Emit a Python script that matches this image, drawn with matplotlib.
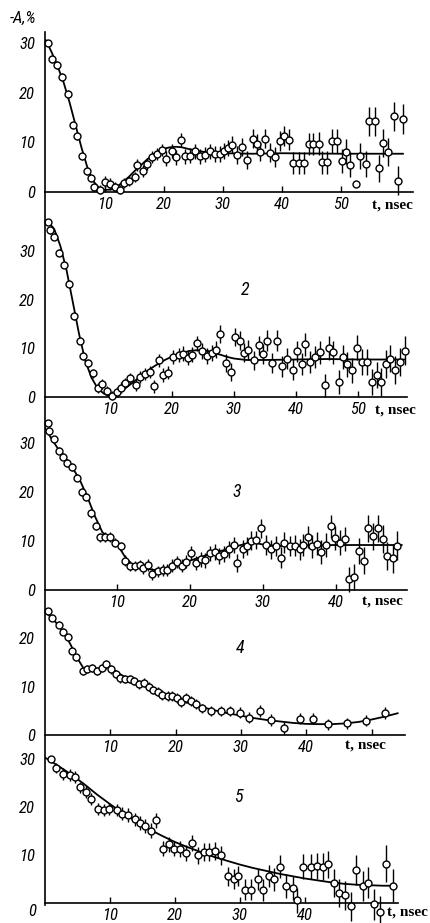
import matplotlib
matplotlib.use('Agg')
import matplotlib.pyplot as plt
from matplotlib.lines import Line2D
from matplotlib import font_manager

# ---- data (t in nsec, -A in %) ----
t1 = [0.3,1.1,1.8,2.7,3.7,4.5,5.2,6.1,6.9,7.6, 8.2,9.2,10.0,10.8,11.7,12.5,13.2,14.1,15.0,15.5,
      16.5,17.2,17.9,18.8,19.6,20.3,21.3,22.1,22.8,23.6, 24.4,25.3,26.1,26.9,27.8,28.6,29.5,30.2,30.9,31.6,
      32.4,33.2,34.1,35.0,35.7,36.3,37.2,38.0,38.8,39.7, 40.3,41.2,41.8,42.8,43.7,44.5,45.3,46.2,46.8,47.7,
      48.4,49.3,50.1,50.9,51.6,52.5,53.2,54.2,54.7,55.8, 56.4,57.2,58.0,58.9,59.7,60.5]
a1 = [30.0,26.8,25.5,23.2,19.7,13.4,11.2,7.2,4.2,2.8, 1.1,0.5,2.0,1.7,1.0,0.5,1.8,2.3,3.0,5.4,
      4.3,5.7,7.0,7.7,8.5,6.7,8.2,7.0,10.5,7.2, 7.3,8.2,7.2,7.5,8.2,7.7,7.7,8.2,8.9,9.5,
      7.5,9.1,6.5,10.7,9.7,8.1,10.7,7.9,7.0,10.3, 11.3,10.5,5.8,5.8,5.8,9.7,9.7,9.7,6.0,6.0,
      10.3,10.3,6.2,8.1,5.5,1.6,7.3,5.7,14.2,14.2, 4.8,9.9,8.0,15.2,2.3,14.7]
e1 = [0.6,0.8,0.8,0.8,0.8,0.7,0.7,0.7,0.7,0.7, 0.8,0.9,1.2,1.2,1.0,1.0,1.0,1.0,1.0,1.2,
      1.2,1.2,1.2,1.2,1.2,1.5,1.4,1.5,1.4,1.5, 1.5,1.5,1.5,1.5,1.5,1.6,1.6,1.6,1.6,1.7,
      1.8,1.8,1.8,1.9,1.9,1.9,1.9,1.9,2.0,2.0, 2.0,2.1,2.2,2.2,2.2,2.2,2.2,2.3,2.3,2.3,
      2.4,2.4,2.4,2.5,2.5,0.0,2.6,2.6,3.0,3.0, 2.7,2.8,2.8,2.9,2.9,3.0]
ct1 = [0,1,2,3,4,5,6,7,8,9,10,11,12,13,14,15,16,17,18,19,20,21,22,23,24,26,28,30,35,40,50,60.5]
cv1 = [30.5,28,25.2,22,18,13.5,9,5,2.2,0.8,0.4,0.5,1.0,2,3,4.2,5.3,6.4,7.4,8.2,8.7,9.0,9.1,9.0,8.7,
       8.2,7.9,7.8,7.7,7.8,7.7,7.7]

t2 = [0.0,0.3,1.0,1.8,2.6,3.4,4.2,5.1,5.6,6.5, 7.3,8.0,8.7,9.5,10.4,11.2,11.7,12.4,13.2,14.2,
      14.8,15.6,16.5,17.1,17.9,18.6,19.4,20.2,21.1,21.8, 22.5,23.3,24.0,24.8,25.6,26.4,27.1,27.8,28.7,29.5,
      30.2,31.0,31.6,32.3,33.3,34.1,34.7,35.4,36.2,37.0, 37.8,38.5,39.5,40.1,40.9,41.5,42.3,43.1,43.8,44.7,
      45.4,46.0,47.0,47.6,48.3,49.1,49.8,50.6,51.4,52.2, 53.0,53.7,54.5,55.2,56.0,56.7,57.6]
a2 = [36.0,34.2,32.9,29.6,27.1,23.3,16.6,11.6,8.4,7.0, 4.9,1.8,2.7,1.2,0.3,1.0,1.9,2.9,3.8,2.4,
      4.1,4.7,5.1,2.2,7.5,4.5,5.0,8.2,8.6,8.9, 8.1,8.7,11.0,9.5,8.4,9.0,9.7,12.9,7.0,5.1,
      12.3,11.6,9.1,9.7,7.5,10.6,8.8,11.6,7.0,11.6, 6.3,7.9,5.6,9.4,6.8,10.8,7.2,8.2,9.2,2.4,
      10.1,9.2,3.1,8.2,6.7,5.5,10.1,7.2,7.2,3.1, 4.5,3.1,6.8,7.9,5.6,7.2,9.5]
e2 = [0.6,0.7,0.7,0.7,0.7,0.7,0.7,0.7,0.8,0.8, 0.9,1.0,1.0,1.0,1.0,1.0,1.1,1.1,1.2,1.2,
      1.2,1.3,1.3,1.3,1.4,1.4,1.4,1.5,1.5,1.5, 1.5,1.5,1.6,1.6,1.6,1.7,1.7,1.8,1.8,1.8,
      1.9,1.9,1.9,2.0,2.0,2.0,2.0,2.1,2.1,2.1, 2.1,2.2,2.2,2.2,2.3,2.3,2.3,2.3,2.4,2.4,
      2.4,2.4,2.5,2.5,2.5,2.6,2.6,2.6,2.7,2.7, 2.7,2.8,2.8,2.8,2.9,2.9,3.0]
ct2 = [0,1,2,3,4,5,6,7,8,9,10,10.5,11,12,13,14,15,16,17,18,19,20,21,22,23,24,25,26,27,28,29,30,32,35,
       40,45,50,57.6]
cv2 = [36,34.5,31,26,19.5,13,7.5,4,1.8,0.7,0.1,0,0.4,1.3,2.3,3.3,4.3,5.3,6.2,7,7.7,8.3,8.8,9.2,9.5,
       9.6,9.6,9.4,9.0,8.6,8.2,7.9,7.6,7.6,7.7,7.8,7.7,7.7]

t3 = [0.5,0.7,1.4,2.0,2.6,3.1,3.9,4.5,5.2,5.8, 6.4,7.1,7.7,8.4,9.1,9.7,10.5,11.1,11.8,12.4,
      13.1,13.6,14.2,14.8,15.6,16.3,16.8,17.5,18.2,18.9, 19.5,20.1,20.8,21.5,22.1,22.7,23.4,24.0,24.7,25.4,
      26.0,26.5,27.2,27.8,28.4,29.1,29.7,30.4,31.1,31.8, 32.5,32.9,33.7,34.4,35.0,35.5,36.2,36.7,37.4,38.0,
      38.6,39.3,39.9,40.5,41.2,41.8,42.5,43.2,43.9,44.4, 45.1,45.7,46.4,47.0,47.8,48.4]
a3 = [34.2,32.6,30.8,28.5,27.3,26.0,25.1,23.0,20.1,19.0, 15.7,13.1,10.8,10.8,10.9,9.7,8.9,6.0,4.9,4.9,
      5.1,4.4,5.1,3.3,3.8,4.1,4.1,5.0,5.7,5.0, 5.8,7.6,5.5,6.3,6.1,7.5,7.8,7.0,7.4,8.3,
      9.2,5.5,8.4,9.0,10.1,10.2,12.6,9.2,8.3,9.0, 6.6,9.7,9.0,9.1,8.3,9.2,10.8,8.9,9.5,7.8,
      9.2,13.0,10.6,9.7,10.4,2.2,2.7,8.0,6.0,12.6, 11.0,12.6,10.4,7.0,6.5,9.1]
e3 = [0.6,0.7,0.7,0.7,0.8,0.8,0.8,0.8,0.8,0.8, 0.9,0.9,0.9,1.0,1.0,1.0,1.0,1.1,1.1,1.1,
      1.1,1.2,1.2,1.2,1.2,1.3,1.3,1.3,1.3,1.4, 1.4,1.5,1.5,1.5,1.5,1.6,1.6,1.6,1.7,1.7,
      1.7,1.8,1.8,1.8,1.9,1.9,2.0,2.0,2.0,2.0, 2.1,2.1,2.1,2.2,2.2,2.2,2.3,2.3,2.3,2.4,
      2.4,2.4,2.5,2.5,2.5,2.6,2.6,2.7,2.7,2.7, 2.8,2.8,2.9,2.9,3.0,3.0]
ct3 = [0,1,2,3,4,5,6,7,8,9,10,11,12,13,14,15,16,17,18,19,20,21,22,23,24,25,26,27,28,29,30,32,35,40,45,49]
cv3 = [33.5,31,28.7,26.8,24.8,22.2,18.8,15,11.8,10.6,9.5,7.0,5.3,4.8,4.4,4.1,4.2,4.5,5.0,5.5,6.0,6.5,
       7.0,7.5,7.9,8.3,8.8,9.2,9.6,9.6,9.3,9.0,9.1,9.2,9.2,9.2]

t4 = [0.4,1.0,2.2,2.8,3.5,4.2,4.8,5.8,6.5,7.2, 8.0,8.7,9.4,10.1,10.9,11.5,12.2,13.0,13.7,14.4,
      15.2,15.9,16.6,17.3,17.9,18.8,19.5,20.2,20.9,21.6, 22.3,23.1,24.1,25.4,27.0,28.3,29.8,31.3,32.9,34.6,
      36.6,39.0,41.0,43.4,46.2,49.2,52.0]
a4 = [25.7,24.3,22.8,21.4,20.3,17.4,16.1,13.2,13.6,13.9, 13.3,13.9,14.6,13.6,12.6,11.7,11.6,11.6,11.2,10.5,
      10.8,10.0,9.3,9.0,8.3,8.1,8.1,7.7,6.9,7.7, 7.0,6.4,5.5,5.0,5.0,5.0,4.6,3.6,5.0,3.1,
      1.5,3.4,3.4,2.2,2.4,3.0,4.6]
e4 = [0.6,0.7,0.7,0.7,0.7,0.7,0.7,0.8,0.8,0.8, 0.8,0.8,0.9,0.9,0.9,0.9,0.9,0.9,0.9,0.9,
      0.9,0.9,0.9,1.0,1.0,1.0,1.0,1.0,1.0,1.0, 1.0,1.0,1.0,1.0,1.0,1.0,1.1,1.1,1.2,1.2,
      1.2,1.2,1.2,1.2,1.2,1.2,1.3]
ct4 = [0,1,2,3,4,5,6,7,8,9,9.5,10,11,12,13,14,15,16,17,18,19,20,22,24,26,28,30,32,34,36,38,40,42,44,
       46,48,50,52,54]
cv4 = [25.5,24.3,22.8,21,18.5,15.8,13.6,13.3,13.5,14.2,14.5,14.1,13,12.2,11.5,10.9,10.3,9.7,9.1,8.5,
       8.0,7.5,6.6,5.8,5.1,4.5,4.0,3.5,3.1,2.8,2.5,2.3,2.25,2.25,2.4,2.7,3.2,3.8,4.5]

t5 = [0.9,1.7,2.8,3.8,4.6,5.4,6.3,7.0,8.1,9.0, 9.9,11.0,11.9,12.8,13.8,14.6,15.4,16.3,17.1,18.1,
      19.0,19.9,20.8,21.7,22.6,23.5,24.4,25.3,26.2,27.1, 28.1,29.0,29.7,30.8,31.7,32.7,33.6,34.4,35.2,36.2,
      37.1,38.1,38.8,39.7,40.9,41.8,42.7,43.6,44.4,45.3, 46.2,47.0,47.9,48.9,49.7,50.6,51.5,52.5,53.5]
a5 = [29.9,28.1,26.9,26.7,26.2,24.1,23.1,21.7,19.6,19.4, 19.6,19.4,18.6,18.3,17.4,16.7,16.0,15.1,17.2,11.3,
      12.2,11.3,11.3,10.4,12.5,9.9,10.6,10.6,10.8,9.9, 5.6,5.0,5.6,2.8,2.8,4.9,2.8,5.6,4.9,7.6,
      3.6,3.1,0.6,7.6,7.6,7.8,7.6,8.1,4.2,2.1, 1.6,-0.7,6.8,3.6,4.2,-0.3,-1.9,8.2,3.6]
e5 = [0.8,1.0,1.2,1.2,1.2,1.2,1.2,1.2,1.3,1.3, 1.3,1.3,1.4,1.4,1.4,1.4,1.5,1.5,1.5,1.6,
      1.6,1.6,1.7,1.7,1.7,1.8,1.8,1.8,1.9,1.9, 2.0,2.0,2.1,2.1,2.2,2.2,2.3,2.3,2.4,2.4,
      2.5,2.5,2.6,2.6,2.7,2.7,2.8,2.8,2.9,2.9, 3.0,3.0,3.1,3.1,3.2,3.2,3.3,3.8,3.4]
ct5 = [0,2,4,6,8,10,12,14,16,18,20,22,24,26,28,30,32,34,36,38,40,42,44,46,48,50,52,54]
cv5 = [30.3,28.6,26.8,24.8,22.6,20.6,18.7,17.0,15.4,14.0,12.7,11.6,10.6,9.6,8.8,8.0,7.3,6.7,6.1,5.6,
       5.1,4.7,4.3,4.0,3.8,3.7,3.6,3.6]

W, H = 430, 923
names = {f.name for f in font_manager.fontManager.ttflist}
num_font, num_size = 'DejaVu Sans', 10.5
for cand in ['Liberation Sans Narrow', 'DejaVu Sans Condensed', 'Roboto Condensed', 'Open Sans Condensed']:
    if cand in names:
        num_font, num_size = cand, 12
        break

fig = plt.figure(figsize=(W / 100, H / 100), dpi=100)
fig.patch.set_facecolor('white')

LEFT = 45

def make_axes(x0, sx, right, y0, sy, top, ybot=-3.0):
    # pixel layout -> axes rectangle and limits
    bottom_px = y0 - ybot * sy
    ax = fig.add_axes([LEFT / W, 1 - bottom_px / H, (right - LEFT) / W, (bottom_px - top) / H])
    ax.set_xlim(-(x0 - LEFT) / sx, (right - x0) / sx)
    ax.set_ylim(ybot, (y0 - top) / sy)
    ax.patch.set_alpha(0)
    for s in ['top', 'right', 'left']:
        ax.spines[s].set_visible(False)
    ax.spines['bottom'].set_position(('data', 0))
    ax.spines['bottom'].set_linewidth(1.2)
    ax.tick_params(axis='x', direction='in', length=4, width=1, pad=3.5)
    ax.tick_params(axis='y', length=0, pad=7)
    return ax

panels = [
    (t1, a1, e1, ct1, cv1, (46, 5.9, 413, 192, 4.97, 32), [10, 20, 30, 40, 50], ['10', '20', '30', '40', '50'], [0, 10, 20, 30]),
    (t2, a2, e2, ct2, cv2, (48, 6.2, 407, 397, 4.87, 215), [10, 20, 30, 40, 50], ['10', '20', '30', '40', '50'], [0, 10, 20, 30]),
    (t3, a3, e3, ct3, cv3, (44, 7.3, 407, 590, 4.89, 418), [10, 20, 30, 40], ['10', '20', '30', '40'], [0, 10, 20, 30]),
    (t4, a4, e4, ct4, cv4, (45, 6.53, 405, 735, 4.83, 607), [10, 20, 30, 40, 50], ['10', '20', '30', '40', ''], [0, 10, 20]),
    (t5, a5, e5, ct5, cv5, (45, 6.5, 398, 903, 4.8, 752), [10, 20, 30, 40], ['10', '20', '30', '40'], [10, 20, 30]),
]

for t, a, e, ct, cv, geo, xt, xl, yt in panels:
    ax = make_axes(*geo)
    ax.plot(ct, cv, color='black', lw=1.3, zorder=2)
    ax.errorbar(t, a, yerr=e, fmt='o', ms=5, mfc='white', mec='black', mew=1.0,
                ecolor='black', elinewidth=1.0, capsize=0, zorder=3, clip_on=False)
    ax.set_xticks(xt)
    ax.set_xticklabels(xl, fontstyle='italic', family=num_font, fontsize=num_size)
    ax.set_yticks(yt)
    ax.set_yticklabels([str(v) for v in yt], fontstyle='italic', family=num_font, fontsize=num_size)

# continuous vertical axis
fig.add_artist(Line2D([LEFT / W, LEFT / W], [1 - 32 / H, 1 - 905 / H], color='black', lw=1.2,
                      transform=fig.transFigure))

# axis titles and panel numbers
fig.text(10 / W, 1 - 18 / H, '-A,%', fontstyle='italic', family=num_font, fontsize=12, va='center')
for x, y in [(372, 205), (375, 410), (362, 601), (345, 745), (387, 912)]:
    fig.text(x / W, 1 - y / H, 't, nsec', family='Liberation Serif', fontweight='bold', fontsize=11,
             va='center')
for lab, x, y in [('2', 245, 290), ('3', 237, 492), ('4', 240, 648), ('5', 238, 797)]:
    fig.text(x / W, 1 - y / H, lab, fontstyle='italic', family=num_font, fontsize=13, ha='center', va='center')
fig.text(32 / W, 1 - 912 / H, '0', fontstyle='italic', family=num_font, fontsize=num_size, ha='center', va='center')

fig.savefig('out.png', dpi=100)
plt.close(fig)
